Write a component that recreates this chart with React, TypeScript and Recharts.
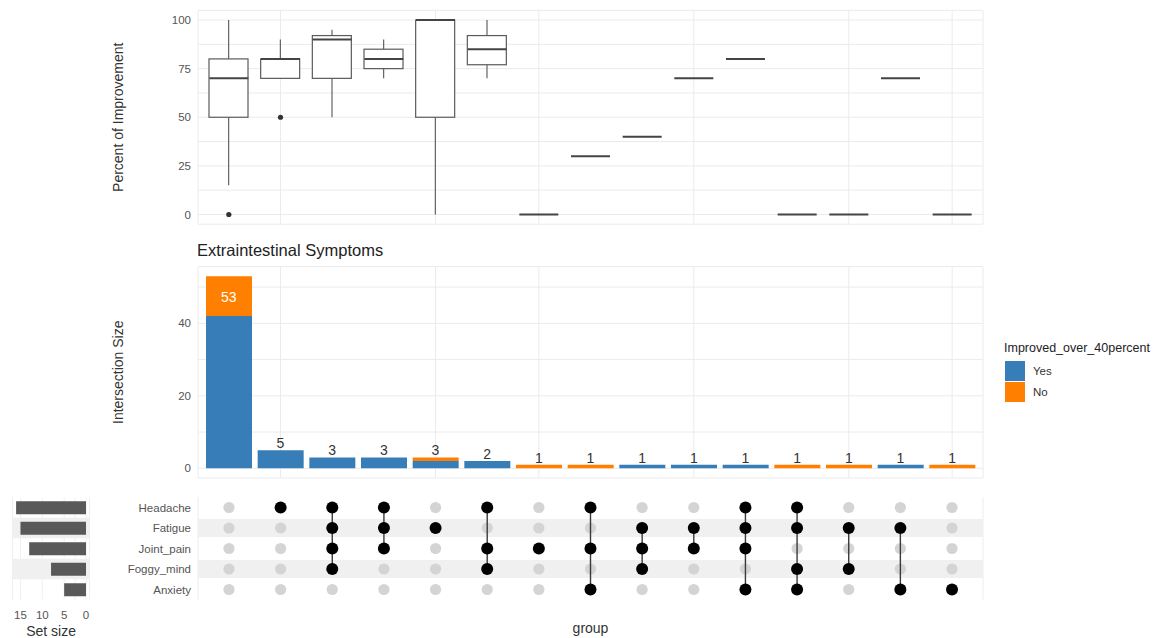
import React from 'react';
import {
  ComposedChart, BarChart, ScatterChart, Bar, Line, Scatter, XAxis, YAxis,
  CartesianGrid, ReferenceArea, LabelList, Legend,
} from 'recharts';

const YES = '#377EB8';
const NO = '#FF7F00';
const FONT = '"Liberation Sans", Arial, sans-serif';

// sets (rows of the matrix) and their sizes
const sets = ['Headache', 'Fatigue', 'Joint_pain', 'Foggy_mind', 'Anxiety'];
const setSizes = [16, 15, 13, 8, 5];

// one entry per intersection column, left to right
const intersections = [
  [],
  ['Headache'],
  ['Headache', 'Fatigue', 'Joint_pain', 'Foggy_mind'],
  ['Headache', 'Fatigue', 'Joint_pain'],
  ['Fatigue'],
  ['Headache', 'Joint_pain', 'Foggy_mind'],
  ['Joint_pain'],
  ['Headache', 'Joint_pain', 'Anxiety'],
  ['Fatigue', 'Joint_pain', 'Foggy_mind'],
  ['Fatigue', 'Joint_pain'],
  ['Headache', 'Fatigue', 'Joint_pain', 'Anxiety'],
  ['Headache', 'Fatigue', 'Foggy_mind', 'Anxiety'],
  ['Fatigue', 'Foggy_mind'],
  ['Fatigue', 'Anxiety'],
  ['Anxiety'],
];
const groupLabels = intersections.map((s) => (s.length ? s.join('-') : 'none'));

// intersection sizes split by Improved_over_40percent
const legendOrder = ['Yes', 'No'];
const yesCounts = [42, 5, 3, 3, 2, 2, 0, 0, 1, 1, 1, 0, 0, 1, 0];
const noCounts = [11, 0, 0, 0, 1, 0, 1, 1, 0, 0, 0, 1, 1, 0, 1];
const totals = [53, 5, 3, 3, 3, 2, 1, 1, 1, 1, 1, 1, 1, 1, 1];

// percent of improvement boxplot stats
const whiskerLow = [15, 70, 50, 70, 0, 70, 0, 30, 40, 70, 80, 0, 0, 70, 0];
const q1 = [50, 70, 70, 75, 50, 77, 0, 30, 40, 70, 80, 0, 0, 70, 0];
const median = [70, 80, 90, 80, 100, 85, 0, 30, 40, 70, 80, 0, 0, 70, 0];
const q3 = [80, 80, 92, 85, 100, 92, 0, 30, 40, 70, 80, 0, 0, 70, 0];
const whiskerHigh = [100, 90, 95, 90, 100, 100, 0, 30, 40, 70, 80, 0, 0, 70, 0];
const outliers = [0, 50, null, null, null, null, null, null, null, null, null, null, null, null, null];

const boxTicks = [0, 12.5, 25, 37.5, 50, 62.5, 75, 87.5, 100];
const barTicks = [0, 10, 20, 30, 40, 50];
const setTicks = [0, 2.5, 5, 7.5, 10, 12.5, 15];

const boxRows = groupLabels.map((g, i) => ({
  group: g,
  low: whiskerLow[i],
  q1: q1[i],
  median: median[i],
  q3: q3[i],
  high: whiskerHigh[i],
  outlier: outliers[i],
}));

const barRows = groupLabels.map((g, i) => ({
  group: g,
  Yes: yesCounts[i],
  No: noCounts[i],
  total: totals[i],
}));

const setRows = sets.map((s, i) => ({ set: s, size: setSizes[i] }));

const inactivePoints: { x: number; y: number }[] = [];
const activeByGroup = intersections.map((members, gi) => {
  const pts: { x: number; y: number }[] = [];
  sets.forEach((s, si) => {
    if (members.includes(s)) pts.push({ x: gi + 1, y: si + 1 });
    else inactivePoints.push({ x: gi + 1, y: si + 1 });
  });
  return pts;
});

const tickStyle = { fontSize: 11.5, fill: '#555' };
const titleStyle = { fontSize: 14, fill: '#333' };

const WhiskerShape = (p: any) => {
  const { x, y, width, height } = p;
  if (!height) return <g />;
  const cx = x + width / 2;
  return <line x1={cx} x2={cx} y1={y} y2={y + height} stroke="#555" strokeWidth={1.1} />;
};

const BoxShape = (p: any) => {
  const { x, y, width, height } = p;
  if (!height) return <g />;
  return <rect x={x} y={y} width={width} height={height} fill="#fff" stroke="#5a5a5a" strokeWidth={1.2} />;
};

const MedianDot = (p: any) => {
  const { cx, cy } = p;
  if (cx == null || cy == null || Number.isNaN(cy)) return <g key={p.index} />;
  return <line key={p.index} x1={cx - 19.5} x2={cx + 19.5} y1={cy} y2={cy} stroke="#444" strokeWidth={2} />;
};

const OutlierDot = (p: any) => {
  const { cx, cy, value } = p;
  if (value == null || cy == null || Number.isNaN(cy)) return <g key={p.index} />;
  return <circle key={p.index} cx={cx} cy={cy} r={2.6} fill="#333" />;
};

const renderTotal = (p: any) => {
  const x = p.x ?? p.viewBox?.x;
  const y = p.y ?? p.viewBox?.y;
  const value = p.value;
  const inside = value >= 40;
  return (
    <text x={x} y={inside ? y + 26 : y - 2} textAnchor="middle" fontSize={14}
      fill={inside ? '#fff' : '#333'}>
      {value}
    </text>
  );
};

const renderLegend = (props: any) => {
  const items = legendOrder
    .map((name) => (props.payload || []).find((e: any) => e.value === name))
    .filter(Boolean);
  return (
    <div style={{ fontFamily: FONT }}>
      <div style={{ fontSize: 12.5, color: '#222', lineHeight: '16px', marginBottom: 5 }}>
        Improved_over_40percent
      </div>
      {items.map((e: any) => (
        <div key={e.value} style={{ display: 'flex', alignItems: 'center', height: 20.5 }}>
          <div style={{ width: 20, height: 20, background: e.color, marginLeft: 1 }} />
          <span style={{ fontSize: 11.5, color: '#333', marginLeft: 8 }}>{e.value}</span>
        </div>
      ))}
    </div>
  );
};

export default function App() {
  return (
    <div style={{ position: 'relative', width: 1164, height: 638, background: '#fff', fontFamily: FONT, overflow: 'hidden' }}>
      <style>{'body{margin:0}'}</style>

      {/* boxplot of percent of improvement */}
      <div style={{ position: 'absolute', left: 0, top: 0 }}>
        <ComposedChart width={1000} height={232} data={boxRows}
          margin={{ top: 10.3, right: 17, bottom: 7.8, left: 38 }}>
          <CartesianGrid xAxisId="box" stroke="#ebebeb" />
          <XAxis xAxisId="box" dataKey="group" type="category" hide padding={{ left: 5, right: 5 }} />
          <XAxis xAxisId="whisker" dataKey="group" type="category" hide padding={{ left: 5, right: 5 }} />
          <YAxis type="number" domain={[-5, 105]} ticks={boxTicks} allowDataOverflow
            tickFormatter={(v: number) => (v % 25 === 0 ? String(v) : '')}
            width={160} axisLine={false} tickLine={false} tickSize={0} tickMargin={7} tick={tickStyle}
            label={{ value: 'Percent of Improvement', angle: -90, position: 'center', style: titleStyle }} />
          <Bar xAxisId="whisker" dataKey={(d: any) => [d.low, d.high]} shape={WhiskerShape} isAnimationActive={false} />
          <Bar xAxisId="box" dataKey={(d: any) => [d.q1, d.q3]} barSize={39} shape={BoxShape} isAnimationActive={false} />
          <Line xAxisId="box" dataKey="median" stroke="none" dot={MedianDot} activeDot={false} isAnimationActive={false} />
          <Line xAxisId="box" dataKey="outlier" stroke="none" dot={OutlierDot} activeDot={false} isAnimationActive={false} />
        </ComposedChart>
      </div>

      <div style={{ position: 'absolute', left: 197, top: 241.5, fontSize: 16.5, lineHeight: '16px', color: '#222' }}>
        Extraintestinal Symptoms
      </div>

      {/* intersection sizes */}
      <div style={{ position: 'absolute', left: 0, top: 230 }}>
        <ComposedChart width={1164} height={250} data={barRows}
          margin={{ top: 36.6, right: 181, bottom: 2.1, left: 38 }}>
          <CartesianGrid stroke="#ebebeb" />
          <XAxis dataKey="group" type="category" hide padding={{ left: 5, right: 5 }} />
          <YAxis type="number" domain={[-2.65, 55.65]} ticks={barTicks} allowDataOverflow
            tickFormatter={(v: number) => (v % 20 === 0 ? String(v) : '')}
            width={160} axisLine={false} tickLine={false} tickSize={0} tickMargin={7} tick={tickStyle}
            label={{ value: 'Intersection Size', angle: -90, position: 'center', style: titleStyle }} />
          <Bar dataKey="Yes" name="Yes" stackId="n" fill={YES} barSize={46} isAnimationActive={false} />
          <Bar dataKey="No" name="No" stackId="n" fill={NO} barSize={46} isAnimationActive={false} />
          <Line dataKey="total" stroke="none" dot={false} activeDot={false} legendType="none" isAnimationActive={false}>
            <LabelList dataKey="total" content={renderTotal} />
          </Line>
          <Legend content={renderLegend} layout="vertical" align="center" verticalAlign="middle"
            wrapperStyle={{ left: 1004, top: 110, width: 160 }} />
        </ComposedChart>
      </div>

      {/* set sizes */}
      <div style={{ position: 'absolute', left: 0, top: 480 }}>
        <BarChart width={110} height={158} data={setRows} layout="vertical"
          margin={{ top: 17.25, right: 20.5, bottom: 19.25, left: 12.6 }}>
          <CartesianGrid horizontal={false} stroke="#f0f0f0" />
          <ReferenceArea y1="Fatigue" y2="Fatigue" fill="#f0f0f0" fillOpacity={1} stroke="none" />
          <ReferenceArea y1="Foggy_mind" y2="Foggy_mind" fill="#f0f0f0" fillOpacity={1} stroke="none" />
          <YAxis type="category" dataKey="set" hide />
          <XAxis type="number" reversed domain={[-0.8, 16.8]} ticks={setTicks} allowDataOverflow
            tickFormatter={(v: number) => (v % 5 === 0 ? String(v) : '')}
            height={19} axisLine={false} tickLine={false} tickSize={0} tickMargin={11} tick={tickStyle}
            label={{ value: 'Set size', position: 'bottom', offset: 7, style: titleStyle }} />
          <Bar dataKey="size" fill="#595959" barSize={13} isAnimationActive={false} />
        </BarChart>
      </div>

      {/* membership matrix */}
      <div style={{ position: 'absolute', left: 0, top: 480 }}>
        <ScatterChart width={1000} height={158}
          margin={{ top: 17.25, right: 17, bottom: 19.25, left: 0 }}>
          <CartesianGrid horizontal={false} stroke="#ededed" />
          {sets.map((s, si) => (si % 2 === 1 ? (
            <ReferenceArea key={s} y1={si + 1 - 0.44} y2={si + 1 + 0.44} fill="#f0f0f0" fillOpacity={1} stroke="none" />
          ) : null))}
          <XAxis type="number" dataKey="x" domain={[0.4, 15.6]} ticks={groupLabels.map((_, i) => i + 1)}
            allowDataOverflow tick={false} axisLine={false} tickLine={false} height={19}
            label={{ value: 'group', position: 'bottom', offset: 4, style: titleStyle }} />
          <YAxis type="number" dataKey="y" reversed domain={[0.5, 5.5]} ticks={[1, 2, 3, 4, 5]}
            tickFormatter={(v: number) => sets[v - 1]} width={198}
            axisLine={false} tickLine={false} tickSize={0} tickMargin={7} tick={tickStyle} />
          <Scatter data={inactivePoints} isAnimationActive={false}
            shape={(p: any) => <circle cx={p.cx} cy={p.cy} r={5.6} fill="#d4d4d4" />} />
          {activeByGroup.map((pts, gi) => (
            <Scatter key={groupLabels[gi]} data={pts} isAnimationActive={false}
              line={{ stroke: '#3a3a3a', strokeWidth: 1.4 }} lineType="joint"
              shape={(p: any) => <circle cx={p.cx} cy={p.cy} r={6} fill="#000" />} />
          ))}
        </ScatterChart>
      </div>
    </div>
  );
}
